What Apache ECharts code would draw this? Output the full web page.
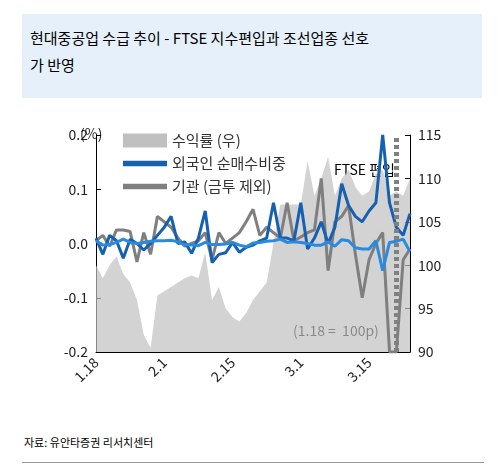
<!DOCTYPE html><html><head><meta charset="utf-8"><script src="https://cdn.jsdelivr.net/npm/echarts@6/dist/echarts.min.js"></script>
<style>body{margin:0;background:#fff;font-family:'Noto Sans CJK KR',sans-serif}</style></head><body>
<div style="position:absolute;left:22px;top:14px;width:460px;height:84px;background:#e6f0fb"></div>
<div style="position:absolute;left:30px;top:24px;font-size:15px;line-height:27px;color:#000">현대중공업 수급 추이 - FTSE 지수편입과 조선업종 선호<br>가 반영</div>
<div id="c" style="position:absolute;left:0;top:100px;width:503px;height:330px"></div>
<div style="position:absolute;left:24px;top:434px;font-size:11px">자료: 유안타증권 리서치센터</div>
<div style="position:absolute;left:22px;top:462px;width:462px;height:1px;background:#999"></div>
<script>
const categories=['1.18','1.19','1.20','1.21','1.22','1.25','1.26','1.27','1.28','1.29','2.1','2.2','2.3','2.4','2.5','2.8','2.9','2.10','2.11','2.12','2.15','2.16','2.17','2.18','2.19','2.22','2.23','2.24','2.25','2.26','3.1','3.2','3.3','3.4','3.5','3.8','3.9','3.10','3.11','3.12','3.15','3.16','3.17','3.18','3.19','3.22','3.23'];
const returnIdx=[100,98.5,100,101,99,98,96,92,90.5,96.5,97,97.5,98,98.5,98.8,98.5,101.5,96,97.5,95,94,93.5,94.5,96,97,98,102.5,107,107,107,107,112,108,110,112.5,108,110,111,109,108,108.5,110.5,111,108,108.5,108,110];
const foreign=[0.01,-0.02,0.015,0.005,-0.027,0.008,0,-0.012,0,0.015,0.03,0.05,0,0.003,-0.018,0.01,0.06,-0.035,-0.02,-0.017,0.002,-0.016,-0.007,-0.003,0.005,0.01,0.075,0.01,0.01,0.005,0.075,-0.01,0.01,0.04,0,0.03,0.11,0.07,0.05,0.04,0.06,0.075,0.2,0.075,0.03,0.015,0.055];
const institution=[0.005,0.015,-0.005,0.025,0.025,0.022,-0.034,0.02,-0.02,0.05,0.04,0.03,0.01,-0.005,0,0.005,0.02,-0.03,0.02,0,0.01,0.02,0.04,0.063,0.015,0.03,0.02,0.01,0.075,0.005,0.012,0.02,0.025,0.12,-0.05,0.04,0.05,0.07,-0.02,-0.1,-0.03,0,0.02,-0.2,-0.2,-0.03,-0.01];
const other=[0.005,-0.003,-0.002,0.002,0.008,0.002,0,0.002,0.004,0.005,0.005,0.006,0.003,-0.002,-0.003,-0.004,0.002,-0.002,-0.002,-0.001,0.002,-0.003,-0.006,0.001,0.002,0.004,0.005,0.008,0.002,0.003,0.002,0,-0.003,-0.003,0.003,-0.005,0.007,0.005,-0.008,-0.01,-0.01,0.005,-0.05,0.002,0.004,0.008,-0.015];
const labelShow={'1.18':1,'2.1':1,'2.15':1,'3.1':1,'3.15':1};
const lineIcon='path://M0,0h40v5h-40z';
const ch=echarts.init(document.getElementById('c'));
ch.setOption({animation:false,textStyle:{fontFamily:'Noto Sans CJK KR'},
grid:{left:96,right:93,top:35,bottom:78},
legend:{left:118,top:28,orient:'vertical',itemWidth:44,itemHeight:14,itemGap:8,textStyle:{fontSize:15,color:'#333'},
 data:[{name:'수익률 (우)',icon:'rect'},{name:'외국인 순매수비중',icon:lineIcon,itemStyle:{color:'#1560b0'}},{name:'기관 (금투 제외)',icon:lineIcon,itemStyle:{color:'#7f7f7f'}}]},
xAxis:{type:'category',data:categories,boundaryGap:false,axisLine:{onZero:false,lineStyle:{color:'#000'}},axisTick:{show:false},
 axisLabel:{interval:0,rotate:45,fontSize:14,color:'#222',formatter:v=>labelShow[v]?v:''}},
yAxis:[{type:'value',min:-0.2,max:0.2,interval:0.1,splitLine:{show:false},
 axisLine:{show:true,lineStyle:{color:'#000'}},axisTick:{show:true,inside:true},axisLabel:{fontSize:14,color:'#222',formatter:v=>v.toFixed(1)}},
 {type:'value',min:90,max:115,interval:5,splitLine:{show:false},axisLine:{show:true,lineStyle:{color:'#000'}},axisTick:{show:true,inside:true},axisLabel:{fontSize:14,color:'#222'}}],
series:[
{name:'수익률 (우)',type:'line',yAxisIndex:1,data:returnIdx,symbol:'none',lineStyle:{width:0},itemStyle:{color:'#c0c0c0'},areaStyle:{color:'#c0c0c0',origin:'start'},z:1},
{name:'외국인 순매수비중',type:'line',data:foreign,symbol:'none',lineStyle:{width:3,color:'#1560b0'},itemStyle:{color:'#1560b0'},z:3,
 markLine:{symbol:'none',silent:true,label:{show:false},lineStyle:{type:[4,3],width:5,color:'#808080'},data:[{xAxis:44}]}},
{name:'기관 (금투 제외)',type:'line',data:institution,symbol:'none',lineStyle:{width:3,color:'#7f7f7f'},itemStyle:{color:'#7f7f7f'},z:2},
{name:'기타',type:'line',data:other,symbol:'none',lineStyle:{width:3,color:'#2a8ae0'},z:4}],
graphic:[{type:'text',left:80,top:27,style:{text:'(%)',fontSize:14,fill:'#222',fontFamily:'Noto Sans CJK KR'}},
{type:'text',left:334,top:63,style:{text:'FTSE 편입',fontSize:14,fill:'#000',fontFamily:'Noto Sans CJK KR'}},
{type:'text',left:293,top:224,style:{text:'(1.18 =  100p)',fontSize:14,fill:'#000',fontFamily:'Noto Sans CJK KR'}}]
});
</script></body></html>
